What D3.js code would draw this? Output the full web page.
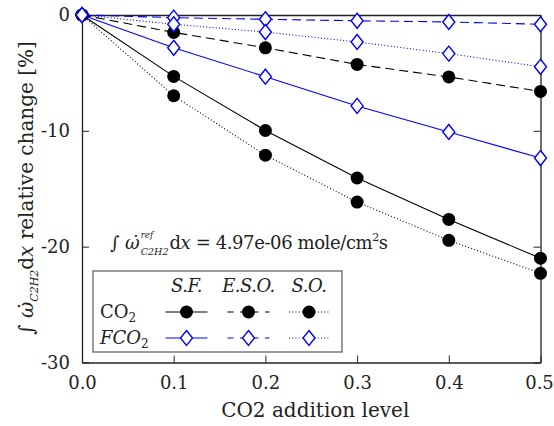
<!DOCTYPE html>
<html>
<head>
<meta charset="utf-8">
<script src="https://cdn.jsdelivr.net/npm/d3@7"></script>
<style>
  html, body { margin: 0; padding: 0; background: #fff; }
  svg { display: block; }
  svg text { font-family: "DejaVu Serif"; fill: #222; }
</style>
</head>
<body>
<svg id="chart" width="554" height="426"></svg>
<script>
// CO2 addition levels (x) and relative change [%] of integrated C2H2 production
const levels = [0, 0.1, 0.2, 0.3, 0.4, 0.5];
const co2SF   = [0, -5.3, -9.97, -14.07, -17.65, -21.0];
const co2ESO  = [0, -1.5, -2.83, -4.27, -5.35, -6.6];
const co2SO   = [0, -6.97, -12.1, -16.15, -19.45, -22.3];
const fco2SF  = [0, -2.83, -5.33, -7.85, -10.1, -12.35];
const fco2ESO = [0, -0.23, -0.37, -0.5, -0.6, -0.8];
const fco2SO  = [0, -0.8, -1.47, -2.33, -3.33, -4.47];

const xTicks = [0, 0.1, 0.2, 0.3, 0.4, 0.5];
const yTicks = [0, -10, -20, -30];
const columnLabels = ["S.F.", "E.S.O.", "S.O."];

const BLUE = "#0000ff";
const SERIF = "DejaVu Serif";
const dashFor = { sf: null, eso: "9,5", so: "1,2.2" };

const series = [
  { values: co2SF,   color: "#000", dash: dashFor.sf,  marker: "circle" },
  { values: co2ESO,  color: "#000", dash: dashFor.eso, marker: "circle" },
  { values: co2SO,   color: "#000", dash: dashFor.so,  marker: "circle" },
  { values: fco2SF,  color: BLUE,   dash: dashFor.sf,  marker: "diamond" },
  { values: fco2ESO, color: BLUE,   dash: dashFor.eso, marker: "diamond" },
  { values: fco2SO,  color: BLUE,   dash: dashFor.so,  marker: "diamond" }
];

const svg = d3.select("#chart").attr("font-family", SERIF);
const plot = { left: 82, right: 540.5, top: 15, bottom: 362.5 };

const x = d3.scaleLinear().domain([0, 0.5]).range([plot.left, plot.right]);
const y = d3.scaleLinear().domain([-30, 0]).range([plot.bottom, plot.top]);

const tickFont = 18;
const titleFont = 20;
const tickLen = 7;

// Axes: ticks pointing inward on all four sides
const axisBottom = d3.axisBottom(x).tickValues(xTicks).tickFormat(d3.format(".1f"))
  .tickSizeInner(-tickLen).tickSizeOuter(0).tickPadding(tickLen + 7);
const axisLeft = d3.axisLeft(y).tickValues(yTicks).tickFormat(d => d === 0 ? "0" : String(d))
  .tickSizeInner(-tickLen).tickSizeOuter(0).tickPadding(tickLen + 5);
const axisTop = d3.axisTop(x).tickValues(xTicks).tickFormat("").tickSizeInner(-tickLen).tickSizeOuter(0);
const axisRight = d3.axisRight(y).tickValues(yTicks).tickFormat("").tickSizeInner(-tickLen).tickSizeOuter(0);

function styleAxis(g) {
  g.attr("font-family", SERIF);
  g.select(".domain").attr("stroke", "#222").attr("stroke-width", 1.3);
  g.selectAll(".tick line").attr("stroke", "#222").attr("stroke-width", 1);
  g.selectAll(".tick text").attr("font-size", tickFont).attr("fill", "#222");
}

const gx = svg.append("g").attr("transform", `translate(0,${plot.bottom})`).call(axisBottom).call(styleAxis);
// keep the last label inside the canvas
gx.selectAll(".tick text").filter(d => d === 0.5).attr("dx", -1.5);
svg.append("g").attr("transform", `translate(${plot.left},0)`).call(axisLeft).call(styleAxis);
svg.append("g").attr("transform", `translate(0,${plot.top})`).call(axisTop).call(styleAxis);
svg.append("g").attr("transform", `translate(${plot.right},0)`).call(axisRight).call(styleAxis);

// Axis titles
svg.append("text")
  .attr("x", (plot.left + plot.right) / 2 + 4).attr("y", 417)
  .attr("text-anchor", "middle").attr("font-size", titleFont)
  .text("CO2 addition level");

const yTitle = svg.append("text")
  .attr("transform", `translate(33,188) rotate(-90)`)
  .attr("text-anchor", "middle").attr("font-size", titleFont);
yTitle.append("tspan").text("\u222B ");
yTitle.append("tspan").attr("font-style", "italic").text("\u03C9\u0307");
yTitle.append("tspan").attr("font-style", "italic").attr("font-size", 11).attr("dy", 5).text("C2H2");
yTitle.append("tspan").attr("dy", -5).text("d");
yTitle.append("tspan").attr("font-style", "italic").text("x");
yTitle.append("tspan").text(" relative change [%]");

// Lines and markers
const line = d3.line().x((d, i) => x(levels[i])).y(d => y(d));
const diamond = (cx, cy) => `M${cx},${cy - 7.5}L${cx + 6},${cy}L${cx},${cy + 7.5}L${cx - 6},${cy}Z`;

function drawMarker(g, m, cx, cy, color) {
  if (m === "circle") {
    g.append("circle").attr("cx", cx).attr("cy", cy).attr("r", 6.5).attr("fill", color);
  } else {
    g.append("path").attr("d", diamond(cx, cy)).attr("fill", "#fff")
      .attr("stroke", color).attr("stroke-width", 1.4);
  }
}

const lines = svg.append("g");
series.forEach(s => {
  lines.append("path").datum(s.values).attr("d", line)
    .attr("fill", "none").attr("stroke", s.color).attr("stroke-width", 1.1)
    .attr("stroke-dasharray", s.dash);
});
const marks = svg.append("g");
series.forEach(s => {
  s.values.forEach((v, i) => drawMarker(marks, s.marker, x(levels[i]), y(v), s.color));
});

// Reference value annotation
const annFont = 18;
const ann = svg.append("g").attr("transform", "translate(110,249)");
const a1 = ann.append("text").attr("font-size", annFont);
a1.append("tspan").text("\u222B ");
a1.append("tspan").attr("font-style", "italic").text("\u03C9\u0307");
const w1 = a1.node().getComputedTextLength();
ann.append("text").attr("x", w1 + 1).attr("y", -11).attr("font-size", 8.5).attr("font-style", "italic").text("ref");
const sub = ann.append("text").attr("x", w1 + 1).attr("y", 6).attr("font-size", 9.5).attr("font-style", "italic").text("C2H2");
const wSub = sub.node().getComputedTextLength();
const a2 = ann.append("text").attr("x", w1 + wSub + 2).attr("font-size", annFont)
  .attr("letter-spacing", -0.4);
a2.append("tspan").text("d");
a2.append("tspan").attr("font-style", "italic").text("x");
a2.append("tspan").text(" = 4.97e-06 mole/cm");
a2.append("tspan").attr("font-size", 11).attr("dy", -8).text("2");
a2.append("tspan").attr("dy", 8).text("s");

// Legend
const legFont = 18;
const lg = svg.append("g");
lg.append("rect").attr("x", 93).attr("y", 271).attr("width", 249).attr("height", 81)
  .attr("fill", "#fff").attr("stroke", "#666").attr("stroke-width", 1.3);
const colX = [186.5, 248.5, 309];
const colHalf = [21, 21, 20];
const colDash = [dashFor.sf, dashFor.eso, dashFor.so];
columnLabels.forEach((t, i) => {
  lg.append("text").attr("x", colX[i]).attr("y", 292).attr("text-anchor", "middle")
    .attr("font-size", legFont).attr("font-style", "italic").attr("letter-spacing", -0.5).text(t);
});
const rows = [
  { y: 312, color: "#000", marker: "circle", label: "CO", italic: false },
  { y: 338, color: BLUE, marker: "diamond", label: "FCO", italic: true }
];
rows.forEach(r => {
  const t = lg.append("text").attr("x", 100).attr("y", r.y + 6).attr("font-size", legFont);
  t.append("tspan").attr("font-style", r.italic ? "italic" : "normal").text(r.label);
  t.append("tspan").attr("font-size", 12).attr("dy", 4).text("2");
  colX.forEach((cx, i) => {
    lg.append("line").attr("x1", cx - colHalf[i]).attr("x2", cx + colHalf[i])
      .attr("y1", r.y).attr("y2", r.y).attr("stroke", r.color).attr("stroke-width", 1.1)
      .attr("stroke-dasharray", i === 1 ? "6,6.5" : colDash[i]);
    drawMarker(lg, r.marker, cx, r.y, r.color);
  });
});
</script>
</body>
</html>
